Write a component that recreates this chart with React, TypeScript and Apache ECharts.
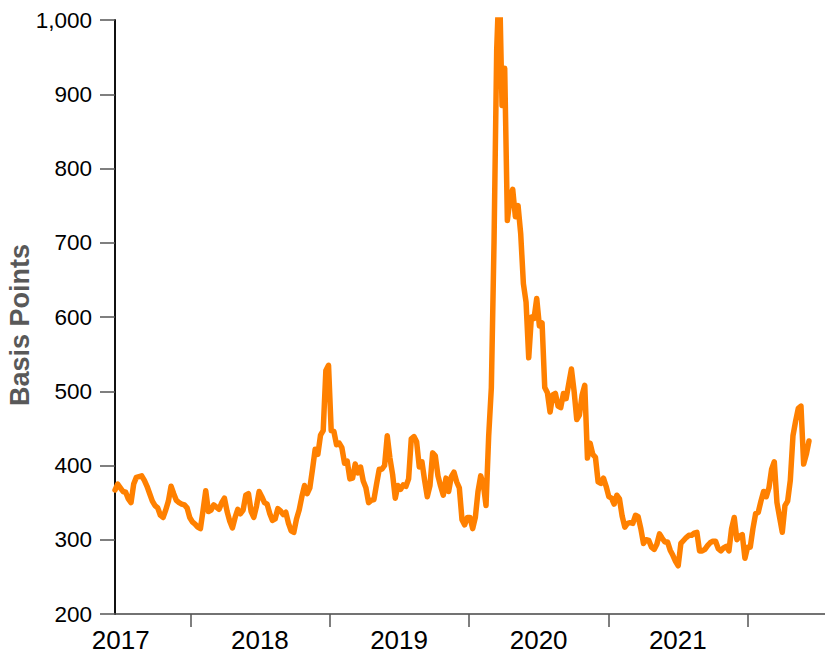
import React, { useEffect, useRef } from "react";
import * as echarts from "echarts";

// Weekly observations, starting at START_DATE (one value per week)
const START_DATE = "2017-06-17";
const X_MAX_DATE = "2022-07-23";

const spreadValues: number[] = [
  367, 375, 370, 365, 364, 355, 350, 375, 384, 385,
  386, 380, 372, 362, 352, 346, 343, 333, 330, 340,
  352, 372, 362, 353, 350, 348, 347, 343, 330, 324,
  321, 317, 315, 340, 366, 338, 340, 347, 344, 341,
  350, 356, 338, 325, 316, 330, 341, 335, 340, 360,
  362, 338, 330, 345, 365, 358, 350, 348, 335, 326,
  328, 342, 339, 334, 337, 322, 312, 310, 328, 340,
  358, 373, 362, 370, 395, 422, 415, 441, 447, 528,
  535, 447, 446, 428, 430, 424, 403, 406, 382, 383,
  402, 390, 398, 379, 370, 350, 353, 354, 375, 395,
  395, 400, 440, 410, 388, 356, 373, 368, 374, 372,
  382, 436, 439, 432, 398, 405, 380, 358, 373, 417,
  413, 386, 372, 360, 383, 365, 385, 391, 378, 370,
  327, 320, 330, 330, 315, 330, 365, 386, 375, 346,
  440, 505, 700, 960, 1060, 885, 935, 730, 760, 772,
  735, 750, 712, 645, 620, 545, 600, 598, 625, 588,
  592, 505, 498, 472, 495, 497, 480, 478, 497, 490,
  510, 530, 500, 462, 468, 495, 508, 410, 430, 415,
  411, 378, 376, 383, 372, 358, 356, 348, 360, 355,
  332, 317, 322, 323, 322, 333, 331, 315, 295, 300,
  299, 290, 287, 294, 308, 302, 297, 297, 286, 279,
  271, 265, 295, 299, 303, 306, 306, 309, 310, 285,
  285, 287, 292, 296, 298, 298, 288, 285, 289, 291,
  285, 315, 330, 300, 305, 307, 275, 290, 290, 315,
  335, 337, 352, 365, 358, 370, 395, 405, 350, 330,
  310, 346, 352, 380, 440, 460, 477, 480, 402, 415,
  433,
];

// Year boundaries (tick marks) and mid-year positions (year labels)
const tickDates = ["2018-01-01", "2019-01-01", "2020-01-01", "2021-01-01", "2022-01-01"];
const yearLabels = ["2017", "2018", "2019", "2020", "2021"];
const labelDates = ["2017-07-02", "2018-07-02", "2019-07-02", "2020-07-02", "2021-07-02"];

const Y_MIN = 200;
const Y_MAX = 1000;
const Y_STEP = 100;

const DAY = 86400000;

export default function App() {
  const ref = useRef<HTMLDivElement>(null);

  useEffect(() => {
    if (!ref.current) return;
    const chart = echarts.init(ref.current, undefined, { renderer: "svg" });
    const start = Date.parse(START_DATE);
    const seriesData = spreadValues.map((v, i) => [start + i * 7 * DAY, v]);
    const labelTs = labelDates.map((d) => Date.parse(d));
    const font = "'Liberation Sans', Arial, sans-serif";

    chart.setOption({
      animation: false,
      backgroundColor: "#ffffff",
      grid: {
        left: 115,
        right: 0,
        top: 20,
        bottom: 41,
        containLabel: false,
        outerBoundsMode: "none",
      },
      xAxis: {
        type: "value",
        min: start,
        max: Date.parse(X_MAX_DATE),
        axisLine: { show: true, lineStyle: { color: "#444444", width: 1.5 } },
        axisTick: {
          show: true,
          length: 13,
          lineStyle: { color: "#555555", width: 1.5 },
          customValues: tickDates.map((d) => Date.parse(d)),
        },
        axisLabel: {
          show: true,
          customValues: labelTs,
          margin: 13,
          color: "#000000",
          fontSize: 26,
          fontFamily: font,
          formatter: (v: number) => {
            const idx = labelTs.findIndex((t) => Math.abs(t - v) < DAY);
            return idx >= 0 ? yearLabels[idx] : "";
          },
        },
        splitLine: { show: false },
      },
      yAxis: {
        type: "value",
        min: Y_MIN,
        max: Y_MAX,
        interval: Y_STEP,
        name: "Basis Points",
        nameLocation: "middle",
        nameRotate: 90,
        nameGap: 82,
        nameMoveOverlap: false,
        nameTextStyle: {
          color: "#595959",
          fontSize: 27,
          fontWeight: "bold",
          fontFamily: font,
          padding: [0, 16, 0, 0],
        },
        axisLine: { show: true, lineStyle: { color: "#111111", width: 2 } },
        axisTick: { show: true, length: 15, lineStyle: { color: "#555555", width: 1.5 } },
        axisLabel: {
          margin: 23,
          color: "#000000",
          fontSize: 22.5,
          fontFamily: font,
          formatter: (v: number) => v.toLocaleString("en-US"),
        },
        splitLine: { show: false },
      },
      series: [
        {
          type: "line",
          data: seriesData,
          showSymbol: false,
          clip: true,
          lineStyle: { color: "#FF8000", width: 5.5, join: "round", cap: "round" },
          itemStyle: { color: "#FF8000" },
        },
      ],
    });

    return () => chart.dispose();
  }, []);

  return (
    <div
      ref={ref}
      style={{ position: "fixed", left: 0, top: 0, width: 825, height: 655, background: "#fff" }}
    />
  );
}
